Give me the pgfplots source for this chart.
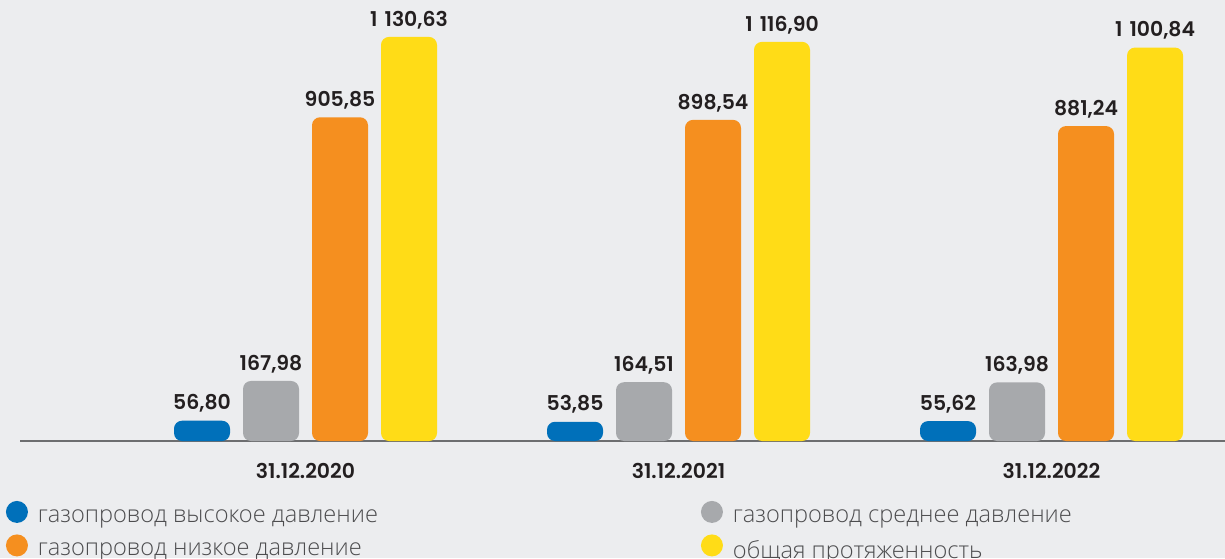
\documentclass[border=0pt]{standalone}
\usepackage{pgfplots}
\pgfplotsset{compat=1.18}
\usepackage{fontspec}
\setmainfont{Open Sans}
\newfontfamily\legfont{Open Sans Light}
\newfontfamily\numfont{Poppins SemiBold}
\definecolor{bgc}{HTML}{ECEDEF}
\definecolor{blueC}{HTML}{0070BA}
\definecolor{grayC}{HTML}{A7A9AC}
\definecolor{orangeC}{HTML}{F58F1F}
\definecolor{yellowC}{HTML}{FFDC17}
\definecolor{txt}{HTML}{231F20}
\definecolor{legc}{HTML}{4D4D4F}
\definecolor{axc}{HTML}{6D6E70}
\begin{document}
\begin{tikzpicture}
\fill[bgc] (0,0) rectangle (612.5pt,279pt);
\begin{axis}[
    at={(10pt,58.5pt)}, anchor=south west,
    scale only axis, width=602.5pt, height=220.5pt,
    xmin=-0.7654, xmax=2.4651, ymin=0, ymax=1234,
    axis x line*=bottom, axis y line=none,
    x axis line style={draw=axc, line width=0.6pt},
    xtick={0,1,2}, xticklabels={31.12.2020,31.12.2021,31.12.2022},
    major tick length=0pt, ytick=\empty,
    xticklabel style={font=\numfont\fontsize{10.2}{12}\selectfont, text=txt, yshift=-7.5pt},
    ybar, bar width=28pt,
    nodes near coords,
    nodes near coords style={font=\numfont\fontsize{10.2}{12}\selectfont, text=txt, anchor=south, yshift=0.5pt},
    /pgf/number format/fixed, /pgf/number format/fixed zerofill,
    /pgf/number format/precision=2, /pgf/number format/use comma,
    /pgf/number format/1000 sep={\hspace{0.35em}}, /pgf/number format/assume math mode=true,
    legend columns=2,
    legend cell align=left,
    legend image code/.code={\fill[#1] (3pt,2.8pt) circle (5.5pt);},
    legend style={at={(axis description cs:-0.012,-0.135)}, anchor=north west,
        draw=none, fill=none, inner sep=0pt,
        font=\legfont\fontsize{11.8}{13}\selectfont, text=legc,
        /tikz/every odd column/.append style={column sep=3pt},
        /tikz/every even column/.append style={column sep=159.5pt},
        row sep=2.5pt},
]
\addplot[fill=blueC, draw=none, rounded corners=4pt, bar shift=-51.75pt] coordinates {(0,56.80) (1,53.85) (2,55.62)};
\addlegendentry{газопровод высокое давление}
\addplot[fill=grayC, draw=none, rounded corners=4pt, bar shift=-17.25pt] coordinates {(0,167.98) (1,164.51) (2,163.98)};
\addlegendentry{газопровод среднее давление}
\addplot[fill=orangeC, draw=none, rounded corners=4pt, bar shift=17.25pt] coordinates {(0,905.85) (1,898.54) (2,881.24)};
\addlegendentry{газопровод низкое давление}
\addplot[fill=yellowC, draw=none, rounded corners=4pt, bar shift=51.75pt] coordinates {(0,1130.63) (1,1116.90) (2,1100.84)};
\addlegendentry{общая протяженность}
\end{axis}
\pgfresetboundingbox
\useasboundingbox (0,0) rectangle (612.5pt,279pt);
\end{tikzpicture}
\end{document}
